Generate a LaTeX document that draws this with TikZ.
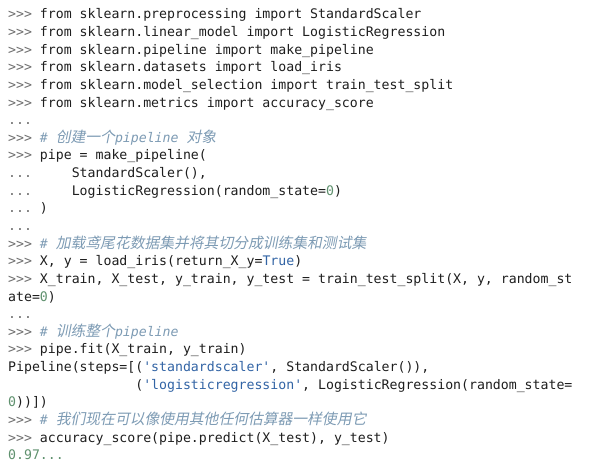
\documentclass[tikz,border=0pt]{standalone}
\usepackage{fontspec}
\setmonofont{DejaVu Sans Mono}
\newfontfamily\cjk[FakeSlant=0.2,Scale=1.12]{Noto Sans CJK SC}
\definecolor{promptc}{RGB}{110,110,110}
\definecolor{commentc}{RGB}{125,155,180}
\definecolor{stringc}{RGB}{50,100,165}
\definecolor{numc}{RGB}{95,145,110}
\definecolor{codec}{RGB}{30,30,30}
\newcommand{\pr}{\textcolor{promptc}{>>>}}
\newcommand{\dt}{\textcolor{promptc}{...}}
\newcommand{\cmt}[1]{\textcolor{commentc}{\itshape\#~#1}}
\newcommand{\zh}[1]{{\cjk #1}}
\newcommand{\str}[1]{\textcolor{stringc}{#1}}
\newcommand{\num}[1]{\textcolor{numc}{#1}}
\newcommand{\ind}{\phantom{xxxx}}

\begin{document}
\begin{tikzpicture}[x=1pt,y=17.64pt,
  codeline/.style={anchor=base west,inner sep=0pt,text=codec,yshift=-1.2pt,
    font=\ttfamily\fontsize{13.2}{16}\selectfont}]

\useasboundingbox [fill=white] (0,0) rectangle (600,-462pt);

% import lines
\node [codeline] (l1) at (8,-1) {\pr{} from sklearn.preprocessing import StandardScaler};
\node [codeline] (l2) at (8,-2) {\pr{} from sklearn.linear\_model import LogisticRegression};
\node [codeline] (l3) at (8,-3) {\pr{} from sklearn.pipeline import make\_pipeline};
\node [codeline] (l4) at (8,-4) {\pr{} from sklearn.datasets import load\_iris};
\node [codeline] (l5) at (8,-5) {\pr{} from sklearn.model\_selection import train\_test\_split};
\node [codeline] (l6) at (8,-6) {\pr{} from sklearn.metrics import accuracy\_score};
\node [codeline] (l7) at (8,-7) {\dt};

% pipeline
\node [codeline] (l8) at (8,-8) {\pr{} \cmt{\zh{创建一个}pipeline \zh{对象}}};
\node [codeline] (l9) at (8,-9) {\pr{} pipe = make\_pipeline(};
\node [codeline] (l10) at (8,-10) {\dt{} \ind StandardScaler(),};
\node [codeline] (l11) at (8,-11) {\dt{} \ind LogisticRegression(random\_state=\num{0})};
\node [codeline] (l12) at (8,-12) {\dt{} )};
\node [codeline] (l13) at (8,-13) {\dt};

% data
\node [codeline] (l14) at (8,-14) {\pr{} \cmt{\zh{加载鸢尾花数据集并将其切分成训练集和测试集}}};
\node [codeline] (l15) at (8,-15) {\pr{} X, y = load\_iris(return\_X\_y=\str{True})};
\node [codeline] (l16) at (8,-16) {\pr{} X\_train, X\_test, y\_train, y\_test = train\_test\_split(X, y, random\_st};
\node [codeline] (l17) at (8,-17) {ate=\num{0})};
\node [codeline] (l18) at (8,-18) {\dt};

% fit
\node [codeline] (l19) at (8,-19) {\pr{} \cmt{\zh{训练整个}pipeline}};
\node [codeline] (l20) at (8,-20) {\pr{} pipe.fit(X\_train, y\_train)};
\node [codeline] (l21) at (8,-21) {Pipeline(steps=[(\str{'standardscaler'}, StandardScaler()),};
\node [codeline] (l22) at (8,-22) {\phantom{Pipeline(steps=[}(\str{'logisticregression'}, LogisticRegression(random\_state=};
\node [codeline] (l23) at (8,-23) {\num{0}))])};

% score
\node [codeline] (l24) at (8,-24) {\pr{} \cmt{\zh{我们现在可以像使用其他任何估算器一样使用它}}};
\node [codeline] (l25) at (8,-25) {\pr{} accuracy\_score(pipe.predict(X\_test), y\_test)};
\node [codeline] (l26) at (8,-26) {\textcolor{numc}{0.97...}};

\end{tikzpicture}
\end{document}
